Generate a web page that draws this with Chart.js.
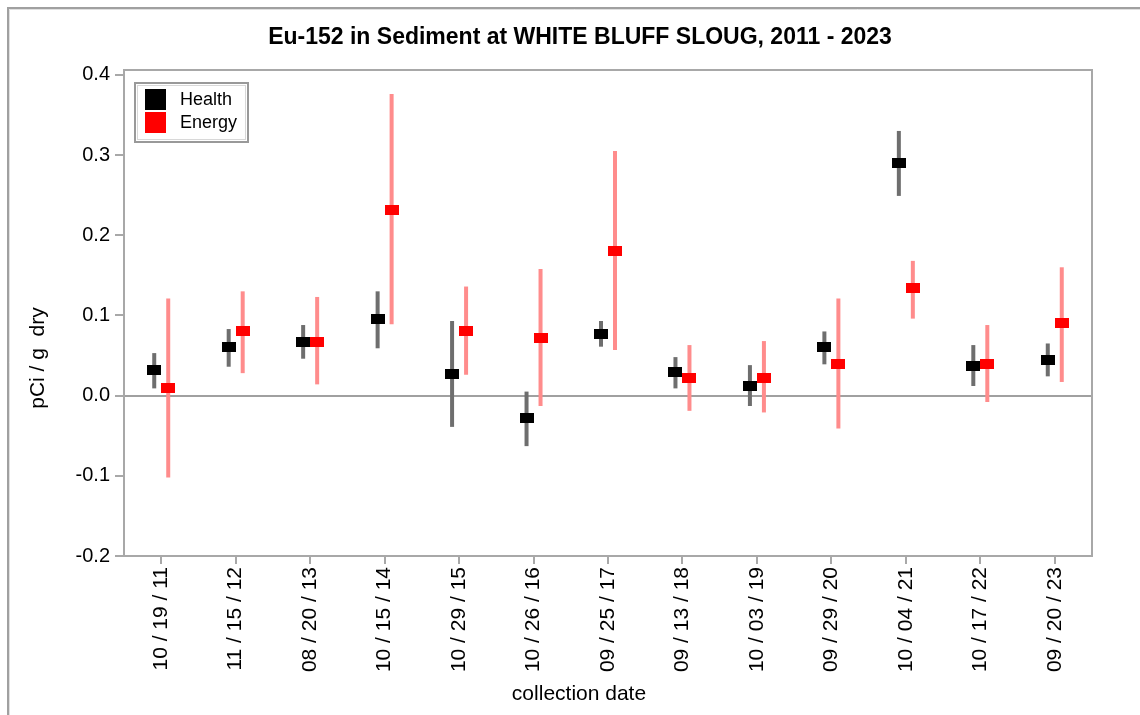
<!DOCTYPE html>
<html><head><meta charset="utf-8">
<script src="https://cdn.jsdelivr.net/npm/chart.js@4.4.1/dist/chart.umd.min.js"></script>
<style>html,body{margin:0;padding:0;background:#fff;}#wrap{width:1140px;height:715px;position:relative;}canvas{display:block;}</style>
</head><body><div id="wrap"><canvas id="c" width="1140" height="715" style="width:1140px;height:715px"></canvas></div>
<script>
const titleText = 'Eu-152 in Sediment at WHITE BLUFF SLOUG, 2011 - 2023';
const xAxisTitle = 'collection date';
const yAxisTitle = 'pCi / g  dry';
const categories = ['10 / 19 / 11', '11 / 15 / 12', '08 / 20 / 13', '10 / 15 / 14', '10 / 29 / 15', '10 / 26 / 16', '09 / 25 / 17', '09 / 13 / 18', '10 / 03 / 19', '09 / 29 / 20', '10 / 04 / 21', '10 / 17 / 22', '09 / 20 / 23'];
const healthValues = [0.032, 0.060, 0.067, 0.095, 0.027, -0.028, 0.077, 0.030, 0.012, 0.060, 0.290, 0.037, 0.045];
const healthLow    = [0.009, 0.036, 0.046, 0.059, -0.039, -0.063, 0.061, 0.009, -0.013, 0.039, 0.249, 0.012, 0.024];
const healthHigh   = [0.053, 0.083, 0.088, 0.130, 0.093, 0.005, 0.093, 0.048, 0.038, 0.080, 0.330, 0.063, 0.065];
const energyValues = [0.010, 0.080, 0.067, 0.232, 0.080, 0.072, 0.180, 0.022, 0.022, 0.040, 0.134, 0.040, 0.090];
const energyLow    = [-0.102, 0.028, 0.014, 0.089, 0.026, -0.013, 0.057, -0.019, -0.021, -0.041, 0.096, -0.008, 0.017];
const energyHigh   = [0.121, 0.130, 0.123, 0.376, 0.136, 0.158, 0.305, 0.063, 0.068, 0.121, 0.168, 0.088, 0.160];
const yTicks = [-0.2, -0.1, 0.0, 0.1, 0.2, 0.3, 0.4];

const FONT = "'Liberation Sans', Arial, sans-serif";
const SERIES_OFFSET = 0.094;

function markerImage(color) {
  const c = document.createElement('canvas');
  c.width = 14; c.height = 10;
  const g = c.getContext('2d');
  g.fillStyle = color; g.fillRect(0, 0, 14, 10);
  return c;
}

const frameAndBorder = {
  id: 'frameAndBorder',
  beforeDraw(chart) {
    const ctx = chart.ctx;
    ctx.save();
    ctx.fillStyle = '#fff';
    ctx.fillRect(0, 0, chart.width, chart.height);
    ctx.strokeStyle = '#a0a0a0';
    ctx.lineWidth = 2;
    ctx.beginPath();
    ctx.moveTo(8, chart.height); ctx.lineTo(8, 8); ctx.lineTo(chart.width, 8);
    ctx.stroke();
    ctx.strokeStyle = '#e0e0e0';
    ctx.lineWidth = 1;
    ctx.beginPath();
    ctx.moveTo(9.5, chart.height); ctx.lineTo(9.5, 9.5); ctx.lineTo(chart.width, 9.5);
    ctx.stroke();
    // titles
    ctx.fillStyle = '#000';
    ctx.textAlign = 'center';
    ctx.textBaseline = 'middle';
    ctx.font = 'bold 23px ' + FONT;
    ctx.fillText(titleText, 580, 38);
    ctx.font = '21px ' + FONT;
    ctx.fillText(xAxisTitle, 579, 694);
    ctx.translate(38, 358);
    ctx.rotate(-Math.PI / 2);
    ctx.font = '21px ' + FONT;
    ctx.fillText(yAxisTitle, 0, 0);
    ctx.restore();
  },
  beforeDatasetsDraw(chart) {
    const a = chart.chartArea, ctx = chart.ctx;
    ctx.save();
    ctx.strokeStyle = '#a8a8a8';
    ctx.lineWidth = 2;
    ctx.strokeRect(a.left, a.top, a.right - a.left, a.bottom - a.top);
    const ys = chart.scales.y;
    chart.data.datasets.forEach((ds, di) => {
      const meta = chart.getDatasetMeta(di);
      ctx.strokeStyle = ds.errorColor;
      ctx.lineWidth = 4;
      meta.data.forEach((pt, i) => {
        ctx.beginPath();
        ctx.moveTo(pt.x, ys.getPixelForValue(ds.errorLow[i]));
        ctx.lineTo(pt.x, ys.getPixelForValue(ds.errorHigh[i]));
        ctx.stroke();
      });
    });
    ctx.restore();
  },
  afterDraw(chart) {
    const ctx = chart.ctx;
    ctx.save();
    const bx = 135, by = 83, bw = 113, bh = 59;
    ctx.fillStyle = '#fff';
    ctx.fillRect(bx, by, bw, bh);
    ctx.strokeStyle = '#999';
    ctx.lineWidth = 2;
    ctx.strokeRect(bx, by, bw, bh);
    ctx.strokeStyle = '#d8d8d8';
    ctx.lineWidth = 1;
    ctx.strokeRect(bx + 2.5, by + 2.5, bw - 5, bh - 5);
    ctx.font = '18px ' + FONT;
    ctx.textBaseline = 'middle';
    chart.data.datasets.forEach((ds, i) => {
      const y = by + 6 + i * 23;
      ctx.fillStyle = ds.backgroundColor;
      ctx.fillRect(bx + 10, y, 21, 21);
      ctx.fillStyle = '#000';
      ctx.fillText(ds.label, bx + 45, y + 11);
    });
    ctx.restore();
  }
};

new Chart(document.getElementById('c'), {
  type: 'scatter',
  data: {
    datasets: [
      {
        label: 'Health',
        data: healthValues.map((v, i) => ({x: i - SERIES_OFFSET, y: v})),
        errorLow: healthLow, errorHigh: healthHigh,
        backgroundColor: '#000000', borderColor: '#000000',
        errorColor: '#6e6e6e',
        pointStyle: markerImage('#000000')
      },
      {
        label: 'Energy',
        data: energyValues.map((v, i) => ({x: i + SERIES_OFFSET, y: v})),
        errorLow: energyLow, errorHigh: energyHigh,
        backgroundColor: '#ff0000', borderColor: '#ff0000',
        errorColor: '#ff8c8c',
        pointStyle: markerImage('#ff0000')
      }
    ]
  },
  options: {
    responsive: false,
    animation: false,
    devicePixelRatio: 1,
    layout: {padding: {left: 10, right: 48, top: 70, bottom: 0}},
    plugins: {
      legend: {display: false},
      tooltip: {enabled: false},
      title: {display: false}
    },
    scales: {
      x: {
        type: 'linear', min: -0.5, max: 12.5,
        afterBuildTicks(scale) { scale.ticks = categories.map((c, i) => ({value: i})); },
        afterFit(scale) { scale.height = 159; },
        ticks: {
          autoSkip: false, maxRotation: 90, minRotation: 90, padding: 3,
          color: '#000', font: {family: FONT, size: 21},
          callback: (v) => categories[v]
        },
        grid: {drawOnChartArea: false, drawTicks: true, tickLength: 8, tickColor: '#a8a8a8', lineWidth: 2},
        border: {display: true, color: '#a8a8a8', width: 2},
        title: {display: false}
      },
      y: {
        type: 'linear', min: -0.2, max: 0.406,
        afterBuildTicks(scale) { scale.ticks = yTicks.map(v => ({value: v})); },
        afterFit(scale) { scale.width = 114; },
        ticks: {
          padding: 5, color: '#000', font: {family: FONT, size: 20},
          callback: (v) => v.toFixed(1)
        },
        grid: {
          drawTicks: true, tickLength: 9, tickColor: '#a8a8a8', lineWidth: 2,
          color: (c) => (c.tick && c.tick.value === 0) ? '#a0a0a0' : 'rgba(0,0,0,0)'
        },
        border: {display: true, color: '#a8a8a8', width: 2},
        title: {display: false}
      }
    }
  },
  plugins: [frameAndBorder]
});
</script></body></html>
